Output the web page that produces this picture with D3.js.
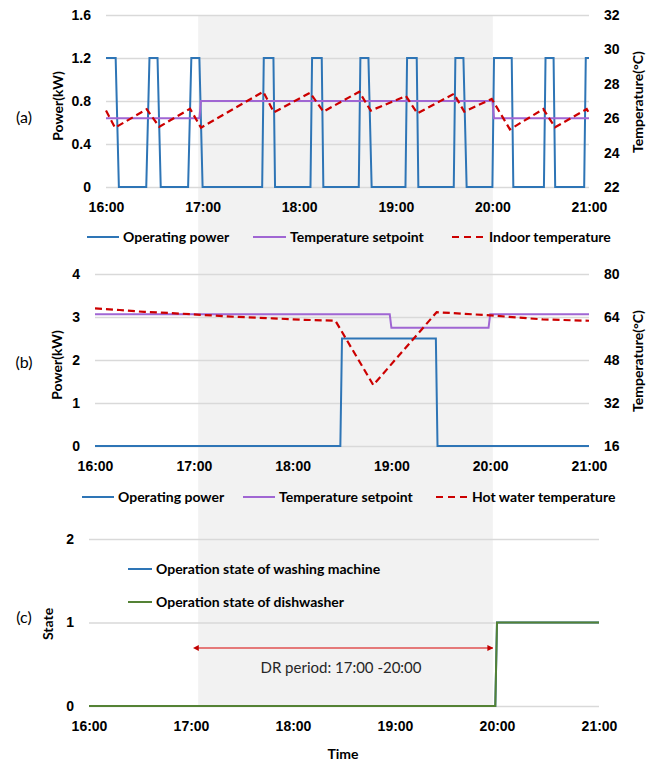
<!DOCTYPE html>
<html lang="en">

<head>
  <meta charset="utf-8">
  <title>DR period operation</title>
  <script src="https://cdn.jsdelivr.net/npm/d3@7"></script>
  <style>
    body { margin: 0; background: #fff; }
    svg { font-family: Lato, "Open Sans", sans-serif; }
    .tick text { font-weight: bold; font-size: 14px; fill: #000; }
    .grid line { stroke: #d9d9d9; stroke-width: 1.3; }
    .title { font-weight: bold; font-size: 14px; fill: #000; }
    .legend text { font-weight: bold; font-size: 14px; fill: #000; }
    .tag { font-size: 16px; fill: #000; }
  </style>
</head>

<body>
  <script>
    // time axis, minutes after 16:00
    var timeMinutes = [0, 60, 120, 180, 240, 300];
    var timeLabels = ["16:00", "17:00", "18:00", "19:00", "20:00", "21:00"];
    var drPeriod = [60, 240];

    // (a) air conditioner
    var acPowerTicks = [0, 0.4, 0.8, 1.2, 1.6];
    var acTempTicks = [22, 24, 26, 28, 30, 32];
    var acPower = [[0, 1.2], [6, 1.2], [8, 0], [25, 0], [27, 1.2], [32, 1.2], [34, 0], [51, 0], [53, 1.2],
      [58, 1.2], [60, 0], [97, 0], [98, 1.2], [104, 1.2], [105, 0], [127, 0], [128, 1.2], [134, 1.2],
      [135, 0], [157, 0], [158, 1.2], [163, 1.2], [165, 0], [186, 0], [187, 1.2], [193, 1.2], [194, 0],
      [216, 0], [217, 1.2], [222, 1.2], [224, 0], [240, 0], [241, 1.2], [252, 1.2], [253, 0], [272, 0],
      [273, 1.2], [278, 1.2], [279, 0], [297, 0], [298, 1.2], [300, 1.2]];
    var acSetpoint = [[0, 26], [58, 26], [59, 27], [240, 27], [241, 26], [300, 26]];
    var indoorTemp = [[0, 26.45], [5.6, 25.45], [25.3, 26.52], [33.1, 25.5], [52.2, 26.55], [59, 25.45],
      [97.7, 27.54], [104.3, 26.34], [126.7, 27.48], [135, 26.38], [157.3, 27.54], [164.4, 26.44],
      [186.3, 27.29], [193.4, 26.28], [216.1, 27.42], [222.5, 26.38], [239.6, 27.12], [250.9, 25.35],
      [271.6, 26.53], [278.9, 25.47], [298.6, 26.53], [300, 26.3]];
    var acLegend = ["Operating power", "Temperature setpoint", "Indoor temperature"];

    // (b) water heater
    var whPowerTicks = [0, 1, 2, 3, 4];
    var whTempTicks = [16, 32, 48, 64, 80];
    var whPower = [[0, 0], [149, 0], [150, 2.5], [207, 2.5], [208, 0], [300, 0]];
    var whSetpoint = [[0, 65], [179, 65], [180, 60], [239, 60], [240, 65], [300, 65]];
    var hotWaterTemp = [[0, 67.2], [15, 66.6], [30, 65.9], [45, 65.5], [62, 64.9], [84, 64.1], [108, 63.5],
      [125, 63.0], [146, 62.6], [169, 38.7], [207.5, 65.8], [240, 64.6], [272, 63.1], [300, 62.6]];
    var whLegend = ["Operating power", "Temperature setpoint", "Hot water temperature"];

    // (c) shiftable appliances
    var stateTicks = [0, 1, 2];
    var washerState = [[0, 0], [239, 0], [240, 1], [300, 1]];
    var dishwasherState = [[0, 0], [239, 0], [240, 1], [300, 1]];
    var stateLegend = ["Operation state of washing machine", "Operation state of dishwasher"];

    var blue = "#2e75b6", purple = "#a066d3", red = "#cc0000", green = "#548235";

    var svg = d3.select("body").append("svg")
      .attr("width", 658)
      .attr("height", 763);

    // DR shading spans all three panels
    var xDR = d3.scaleLinear().domain([0, 300]).range([100, 591]);
    svg.append("rect")
      .attr("x", xDR(drPeriod[0]))
      .attr("y", 15)
      .attr("width", xDR(drPeriod[1]) - xDR(drPeriod[0]))
      .attr("height", 691)
      .attr("fill", "#f2f2f2");

    function noDomain(s) { s.select(".domain").remove(); }

    function panel(p) {
      var x = d3.scaleLinear().domain([0, 300]).range([p.left, p.right]);
      var yL = d3.scaleLinear().domain(d3.extent(p.leftTicks)).range([p.bottom, p.top]);
      var g = svg.append("g");

      g.append("g").attr("class", "grid")
        .attr("transform", "translate(" + p.left + ",0)")
        .call(d3.axisLeft(yL).tickValues(p.leftTicks).tickSize(-(p.right - p.left)).tickFormat(""))
        .call(noDomain);

      g.append("g")
        .attr("transform", "translate(" + p.left + ",0)")
        .call(d3.axisLeft(yL).tickValues(p.leftTicks).tickSize(0).tickPadding(15).tickFormat(String))
        .call(noDomain);

      var yR = null;
      if (p.rightTicks) {
        yR = d3.scaleLinear().domain(d3.extent(p.rightTicks)).range([p.bottom, p.top]);
        g.append("g")
          .attr("transform", "translate(" + p.right + ",0)")
          .call(d3.axisRight(yR).tickValues(p.rightTicks).tickSize(0).tickPadding(15).tickFormat(String))
          .call(noDomain);
        g.append("text").attr("class", "title")
          .attr("transform", "translate(" + p.rightTitleX + "," + ((p.top + p.bottom) / 2 + 1) + ") rotate(-90)")
          .attr("text-anchor", "middle")
          .attr("dy", "0.35em")
          .text("Temperature(°C)");
      }

      g.append("g")
        .attr("transform", "translate(0," + p.bottom + ")")
        .call(d3.axisBottom(x).tickValues(timeMinutes).tickSize(0).tickPadding(15)
          .tickFormat(function (d, i) { return timeLabels[i]; }))
        .call(noDomain);

      g.append("text").attr("class", "title")
        .attr("transform", "translate(" + p.leftTitleX + "," + p.leftTitleY + ") rotate(-90)")
        .attr("text-anchor", "middle")
        .attr("dy", "0.35em")
        .text(p.leftTitle);

      g.append("text").attr("class", "tag")
        .attr("x", 24)
        .attr("y", p.tagY)
        .attr("text-anchor", "middle")
        .attr("dy", "0.35em")
        .text(p.tag);

      p.series.forEach(function (s) {
        var y = s.axis === "right" ? yR : yL;
        var line = d3.line()
          .x(function (d) { return x(d[0]); })
          .y(function (d) { return y(d[1]); });
        g.append("path")
          .datum(s.data)
          .attr("d", line)
          .attr("fill", "none")
          .attr("stroke", s.color)
          .attr("stroke-width", s.width || 2)
          .attr("stroke-dasharray", s.dash || null);
      });

      var lg = g.append("g").attr("class", "legend");
      p.legend.forEach(function (item) {
        lg.append("line")
          .attr("x1", item.x1).attr("x2", item.x2)
          .attr("y1", item.y).attr("y2", item.y)
          .attr("stroke", item.color)
          .attr("stroke-width", 2)
          .attr("stroke-dasharray", item.dash || null);
        lg.append("text")
          .attr("x", item.x2 + 4)
          .attr("y", item.y)
          .attr("dy", "0.35em")
          .text(item.label);
      });

      return x;
    }

    panel({
      left: 106, right: 589, top: 15, bottom: 187,
      leftTicks: acPowerTicks, rightTicks: acTempTicks,
      leftTitle: "Power(kW)", leftTitleX: 58, leftTitleY: 106, rightTitleX: 638,
      tag: "(a)", tagY: 117,
      series: [
        { data: acPower, color: blue },
        { data: acSetpoint, color: purple, axis: "right" },
        { data: indoorTemp, color: red, axis: "right", dash: "7,4", width: 2.2 }
      ],
      legend: [
        { x1: 87, x2: 119, y: 237, color: blue, label: acLegend[0] },
        { x1: 253, x2: 286, y: 237, color: purple, label: acLegend[1] },
        { x1: 452, x2: 485, y: 237, color: red, dash: "7,5", label: acLegend[2] }
      ]
    });

    panel({
      left: 95, right: 589, top: 274, bottom: 446,
      leftTicks: whPowerTicks, rightTicks: whTempTicks,
      leftTitle: "Power(kW)", leftTitleX: 57, leftTitleY: 365, rightTitleX: 638,
      tag: "(b)", tagY: 362,
      series: [
        { data: whPower, color: blue },
        { data: whSetpoint, color: purple, axis: "right" },
        { data: hotWaterTemp, color: red, axis: "right", dash: "7,4", width: 2.2 }
      ],
      legend: [
        { x1: 82, x2: 114, y: 497, color: blue, label: whLegend[0] },
        { x1: 243, x2: 275, y: 497, color: purple, label: whLegend[1] },
        { x1: 436, x2: 468, y: 497, color: red, dash: "7,5", label: whLegend[2] }
      ]
    });

    panel({
      left: 89, right: 599, top: 539, bottom: 706,
      leftTicks: stateTicks,
      leftTitle: "State", leftTitleX: 48, leftTitleY: 624,
      tag: "(c)", tagY: 617,
      series: [
        { data: washerState, color: blue },
        { data: dishwasherState, color: green }
      ],
      legend: [
        { x1: 128, x2: 152, y: 569, color: blue, label: stateLegend[0] },
        { x1: 128, x2: 152, y: 602, color: green, label: stateLegend[1] }
      ]
    });

    // DR period arrow
    var defs = svg.append("defs");
    ["start", "end"].forEach(function (k) {
      defs.append("marker")
        .attr("id", "arrow-" + k)
        .attr("viewBox", "0 0 10 10")
        .attr("refX", k === "end" ? 9 : 1).attr("refY", 5)
        .attr("markerWidth", 6).attr("markerHeight", 6)
        .attr("markerUnits", "userSpaceOnUse")
        .attr("orient", "auto-start-reverse")
        .append("path")
        .attr("d", "M0,0 L10,5 L0,10 Z")
        .attr("fill", "#c00000");
    });
    svg.append("line")
      .attr("x1", xDR(drPeriod[0])).attr("x2", xDR(drPeriod[1]))
      .attr("y1", 648).attr("y2", 648)
      .attr("stroke", "#e05050")
      .attr("stroke-width", 1.5)
      .attr("marker-start", "url(#arrow-start)")
      .attr("marker-end", "url(#arrow-end)");
    svg.append("text")
      .attr("x", 341).attr("y", 668)
      .attr("dy", "0.35em")
      .attr("text-anchor", "middle")
      .style("font-size", "15px")
      .style("fill", "#262626")
      .text("DR period: 17:00 -20:00");

    svg.append("text").attr("class", "title")
      .attr("x", 343).attr("y", 754)
      .attr("dy", "0.35em")
      .attr("text-anchor", "middle")
      .text("Time");
  </script>
</body>

</html>
